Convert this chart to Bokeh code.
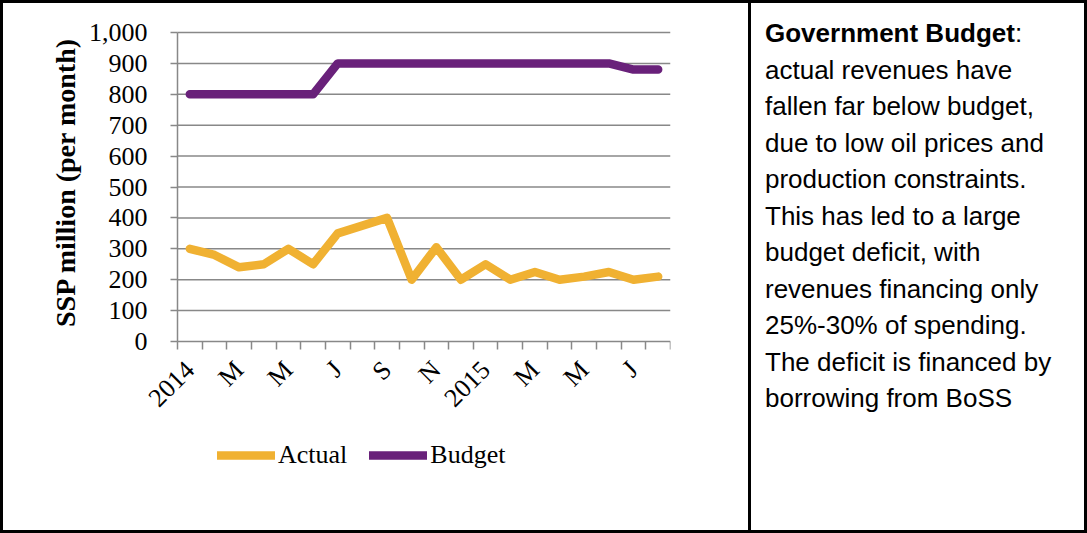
from math import pi
from bokeh.plotting import figure
from bokeh.models import (Range1d, FixedTicker, NumeralTickFormatter, Legend,
                          LegendItem, Div, Title)
from bokeh.layouts import row
from bokeh.embed import file_html
from bokeh.resources import INLINE

# ---------------- data ----------------
months = ["Jan 2014", "Feb 2014", "Mar 2014", "Apr 2014", "May 2014", "Jun 2014",
          "Jul 2014", "Aug 2014", "Sep 2014", "Oct 2014", "Nov 2014", "Dec 2014",
          "Jan 2015", "Feb 2015", "Mar 2015", "Apr 2015", "May 2015", "Jun 2015",
          "Jul 2015", "Aug 2015"]
actual = [300, 280, 240, 250, 300, 250, 350, 375, 400, 200,
          305, 200, 250, 200, 225, 200, 210, 225, 200, 210]
budget = [800, 800, 800, 800, 800, 800, 900, 900, 900, 900,
          900, 900, 900, 900, 900, 900, 900, 900, 880, 880]
tick_labels = ["2014", "M", "M", "J", "S", "N", "2015", "M", "M", "J"]
y_ticks = [0, 100, 200, 300, 400, 500, 600, 700, 800, 900, 1000]
y_title = "SSP million (per month)"
series_names = ["Actual", "Budget"]
note_title = "Government Budget"
note_lines = ["actual revenues have",
              "fallen far below budget,",
              "due to low oil prices and",
              "production constraints.",
              "This has led to a large",
              "budget deficit, with",
              "revenues financing only",
              "25%-30% of spending.",
              "The deficit is financed by",
              "borrowing from BoSS"]

# ---------------- layout / styles ----------------
ORANGE = "#F0B132"
PURPLE = "#69217A"
GRAY = "#888888"
SERIF = "Liberation Serif"
H = 527
W1 = 745
W2 = 336
B_LEFT, B_RIGHT, B_TOP, B_BOTTOM = 80, 78, 8, 10
AXIS_X = 174          # pixel column of the value axis
VAL_TOP = 29          # pixel row of the top value (1000)
PLOT_H = 309          # pixels used by the 0..1000 value span
TITLE_HALF = 140      # half the length of the rotated axis title
upp = (y_ticks[-1] - y_ticks[0]) / PLOT_H
y_hi = y_ticks[-1] + (VAL_TOP - B_TOP) * upp
y_lo = y_ticks[0] - ((H - B_BOTTOM) - (VAL_TOP + PLOT_H)) * upp

n = len(months)
x = list(range(n))
major_idx = x[::2]
x_bounds = (x[0] - 0.5, x[-1] + 0.5)
px_per_cat = (W1 - B_RIGHT - AXIS_X) / n
x_lo = x_bounds[0] - (AXIS_X - B_LEFT) / px_per_cat

p = figure(width=W1, height=H, x_range=Range1d(x_lo, x_bounds[1]),
           y_range=Range1d(y_lo, y_hi), output_backend="svg",
           toolbar_location=None,
           min_border_left=B_LEFT, min_border_right=B_RIGHT,
           min_border_top=B_TOP, min_border_bottom=B_BOTTOM)
p.outline_line_color = None
p.background_fill_color = "white"
p.border_fill_color = "white"
p.xgrid.visible = False
p.ygrid.visible = False

# horizontal gridlines between the axis bounds
grid_y = y_ticks[1:]
p.segment(x0=[x_bounds[0]] * len(grid_y), x1=[x_bounds[1]] * len(grid_y),
          y0=grid_y, y1=grid_y, line_color=GRAY, line_width=1.5)

# x axis (drawn at value 0 inside the frame)
xa = p.xaxis[0]
xa.fixed_location = 0
xa.bounds = x_bounds
xa.ticker = FixedTicker(ticks=major_idx,
                        minor_ticks=[i - 0.5 for i in x] + [x[-1] + 0.5])
xa.major_label_overrides = {i: lab for i, lab in zip(major_idx, tick_labels)}
xa.major_tick_out = 0
xa.major_tick_in = 0
xa.minor_tick_out = 8
xa.minor_tick_in = 0
xa.minor_tick_line_color = GRAY
xa.minor_tick_line_width = 1.5
xa.axis_line_color = GRAY
xa.axis_line_width = 1.5
xa.major_label_orientation = pi / 4
xa.major_label_text_font = SERIF
xa.major_label_text_font_size = "26px"
xa.major_label_text_color = "black"
xa.major_label_standoff = 16

# y axis (drawn at the left category boundary inside the frame)
ya = p.yaxis[0]
ya.fixed_location = x_bounds[0]
ya.ticker = FixedTicker(ticks=y_ticks)
ya.bounds = (y_ticks[0], y_ticks[-1])
ya.formatter = NumeralTickFormatter(format="0,0")
ya.major_tick_out = 7
ya.major_tick_in = 0
ya.minor_tick_out = 0
ya.minor_tick_in = 0
ya.major_tick_line_color = GRAY
ya.major_tick_line_width = 1.5
ya.axis_line_color = GRAY
ya.axis_line_width = 1.5
ya.major_label_text_font = SERIF
ya.major_label_text_font_size = "26px"
ya.major_label_text_color = "black"
ya.major_label_standoff = 23

title_start = VAL_TOP + PLOT_H / 2 + TITLE_HALF
p.add_layout(Title(text=y_title, align="left",
                   offset=(H - B_BOTTOM) - title_start,
                   text_font=SERIF, text_font_style="bold",
                   text_font_size="28px", text_color="black", standoff=6),
             "left")

r1 = p.line(x, actual, line_color=ORANGE, line_width=8.5,
            line_join="round", line_cap="round")
r2 = p.line(x, budget, line_color=PURPLE, line_width=8.5,
            line_join="round", line_cap="round")

legend = Legend(items=[LegendItem(label=series_names[0], renderers=[r1]),
                       LegendItem(label=series_names[1], renderers=[r2])],
                orientation="horizontal", location=(134, 50),
                glyph_width=58, glyph_height=30, label_height=30,
                label_standoff=3, spacing=22, padding=0, margin=0,
                border_line_color=None, background_fill_alpha=0,
                label_text_font=SERIF, label_text_font_size="26px",
                label_text_color="black")
p.add_layout(legend, "center")

# ---------------- right note panel ----------------
note_html = (
    '<div style="box-sizing:border-box;width:%dpx;height:%dpx;margin:0;'
    'border-left:3px solid black;padding:12px 0 0 14px;'
    "font-family:'Liberation Sans',Arial,sans-serif;font-size:26px;"
    'line-height:36.5px;color:black;white-space:nowrap;background:white">'
    % (W2, H)
    + "<b>" + note_title + "</b>:<br>" + "<br>".join(note_lines) + "</div>"
)
note = Div(text=note_html, width=W2, height=H, margin=0)

layout = row(p, note, margin=3, styles={"outline": "3px solid black"})

open("out.html", "w").write(file_html(layout, INLINE))
